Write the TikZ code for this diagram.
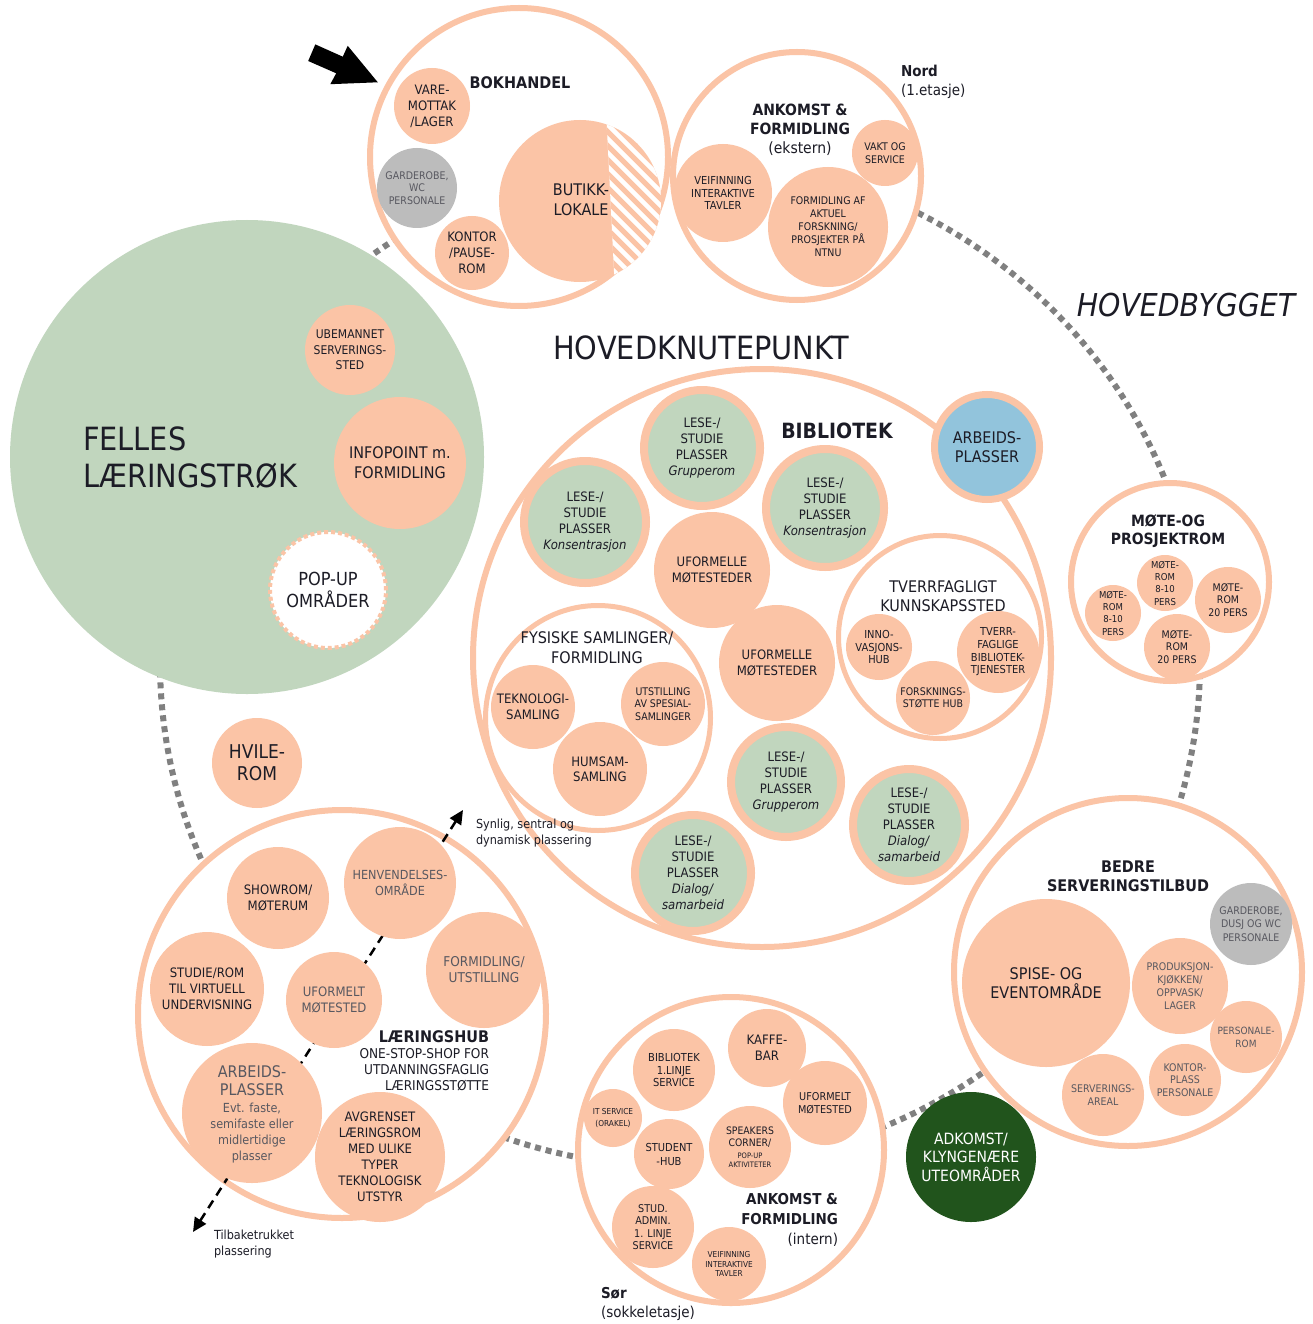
\documentclass[tikz,border=0pt]{standalone}
\usepackage{fontspec}
\setmainfont{DejaVu Sans}[FakeStretch=0.9]
\usetikzlibrary{arrows.meta}
\definecolor{peach}{RGB}{251,196,166}
\definecolor{lgreen}{RGB}{193,214,190}
\definecolor{lblue}{RGB}{146,196,220}
\definecolor{lgray}{RGB}{188,188,188}
\definecolor{dgreen}{RGB}{33,84,28}
\definecolor{txt}{RGB}{28,28,38}
\definecolor{gtxt}{RGB}{88,88,96}
\definecolor{dotc}{RGB}{128,128,128}
\newcommand{\myfs}[2]{\fontsize{#1}{#2}\selectfont}
\begin{document}
\begin{tikzpicture}[x=1pt,y=-1pt,
  every node/.style={inner sep=0pt, outer sep=0pt, align=center, text=txt},
  bub/.style={circle, fill=peach, minimum size={2*#1}},
  gbub/.style={circle, fill=lgray, minimum size={2*#1}, text=gtxt},
  ring/.style={circle, draw=peach, line width=6pt, fill=white, minimum size={2*(#1-3)}},
  iring/.style={circle, draw=peach, line width=5pt, fill=white, minimum size={2*(#1-2.5)}},
  lese/.style={circle, fill=lgreen, draw=peach, line width=8pt, minimum size={2*(#1-4)}, font=\myfs{13}{16}},
  dotring/.style={dotc, line width=6pt, dash pattern=on 6pt off 5pt},
  hubarrow/.style={line width=2.5pt, dash pattern=on 9pt off 6pt, {Triangle[length=14pt,width=13pt]}-{Triangle[length=14pt,width=13pt]}}
]
\useasboundingbox (0,0) rectangle (1312,1324);
\fill[white] (0,0) rectangle (1312,1324);

% dotted connecting ring
\draw[dotring] (680,662) ellipse [x radius=520, y radius=505];

% ===== FELLES LAERINGSTROK =====
\node[circle, fill=lgreen, minimum size=474] (felles) at (247,457) {};
\node[anchor=west, align=left, font=\myfs{32}{37}] (fellesT) at (83,458) {FELLES\\LÆRINGSTRØK};
\node[bub=45, font=\myfs{12}{15.5}] (ubem) at (350,350) {UBEMANNET\\SERVERINGS-\\STED};
\node[bub=66, font=\myfs{16}{20}] (info) at (400,463) {INFOPOINT m.\\FORMIDLING};
\node[circle, fill=white, draw=peach, line width=4pt, dash pattern=on 4pt off 3pt, minimum size=116, font=\myfs{18}{22}] (popup) at (328,590) {POP-UP\\OMRÅDER};
\node[bub=45, font=\myfs{19}{22}] (hvile) at (257,763) {HVILE-\\ROM};

% ===== BOKHANDEL =====
\node[ring=152] (bok) at (519,157) {};
\node[font=\bfseries\myfs{16}{19}] (bokT) at (520,83) {BOKHANDEL};
\node[bub=38, font=\myfs{13}{16}] (vare) at (432,106) {VARE-\\MOTTAK\\/LAGER};
\node[gbub=40, font=\myfs{10.5}{12.5}] (garde) at (417,188) {GARDEROBE,\\WC\\PERSONALE};
\node[bub=37, font=\myfs{13}{16}] (kontor) at (472,253) {KONTOR\\/PAUSE-\\ROM};
\node[bub=81] (butikk) at (580,201) {};
\begin{scope}
  \clip (580,201) circle [radius=81];
  \clip (606,110) -- (615,292) -- (680,292) -- (680,110) -- cycle;
  \fill[white] (590,110) rectangle (680,292);
  \foreach \k in {-210,-196,...,130} \draw[peach, line width=5pt] (600+\k,110) -- (782+\k,292);
\end{scope}
\node[font=\myfs{16}{19.5}] (butikkT) at (581,200) {BUTIKK-\\LOKALE};

% black entrance arrow
\fill[black] (315.3,44.4) -- (342.8,56.7) -- (347.7,45.8) -- (377.8,82.3) -- (330.3,84.2) -- (336.2,73.3) -- (308.2,61) -- cycle;

% ===== ANKOMST (ekstern) =====
\node[ring=127] (ankE) at (797,176) {};
\node[font=\myfs{15.5}{19}] (ankET) at (800,130) {\textbf{ANKOMST \&}\\\textbf{FORMIDLING}\\(ekstern)};
\node[bub=49, font=\myfs{11}{12.5}] (veiE) at (723,193) {VEIFINNING\\INTERAKTIVE\\TAVLER};
\node[bub=60, font=\myfs{10.5}{13}] (formE) at (828,227) {FORMIDLING AF\\AKTUEL\\FORSKNING/\\PROSJEKTER PÅ\\NTNU};
\node[bub=33, font=\myfs{10.5}{12.5}] (vakt) at (885,153) {VAKT OG\\SERVICE};
\node[anchor=west, align=left, font=\myfs{15}{19}] (nord) at (901,82) {\textbf{Nord}\\(1.etasje)};

\node[font=\itshape\myfs{31.5}{36}] (hovedb) at (1186,305) {HOVEDBYGGET};
\node[font=\myfs{32}{36}] (hovedk) at (701,348) {HOVEDKNUTEPUNKT};

% ===== BIBLIOTEK =====
\node[ring=292] (lib) at (762,658) {};
\node[font=\bfseries\myfs{21}{25}] (libT) at (837,431) {BIBLIOTEK};
\node[circle, fill=lblue, draw=peach, line width=7pt, minimum size=105, font=\myfs{16}{18.5}] (arb) at (987,447) {ARBEIDS-\\PLASSER};
\node[lese=62] (l1) at (702,448) {LESE-/\\STUDIE\\PLASSER\\\textit{Grupperom}};
\node[lese=65] (l2) at (585,522) {LESE-/\\STUDIE\\PLASSER\\\textit{Konsentrasjon}};
\node[lese=63] (l3) at (825,508) {LESE-/\\STUDIE\\PLASSER\\\textit{Konsentrasjon}};
\node[lese=59] (l4) at (786,782) {LESE-/\\STUDIE\\PLASSER\\\textit{Grupperom}};
\node[lese=60] (l5) at (909,825) {LESE-/\\STUDIE\\PLASSER\\\textit{Dialog/}\\\textit{samarbeid}};
\node[lese=62] (l6) at (693,873) {LESE-/\\STUDIE\\PLASSER\\\textit{Dialog/}\\\textit{samarbeid}};
\node[bub=58, font=\myfs{13}{16}] (uf1) at (712,570) {UFORMELLE\\MØTESTEDER};
\node[bub=58, font=\myfs{13}{16}] (uf2) at (777,663) {UFORMELLE\\MØTESTEDER};

\node[iring=104] (tvf) at (940,637) {};
\node[font=\myfs{16}{19}] (tvfT) at (943,596) {TVERRFAGLIGT\\KUNNSKAPSSTED};
\node[bub=33, font=\myfs{11}{12.7}] (inno) at (879,647) {INNO-\\VASJONS-\\HUB};
\node[bub=41, font=\myfs{11}{12.7}] (tverrB) at (998,652) {TVERR-\\FAGLIGE\\BIBLIOTEK-\\TJENESTER};
\node[bub=37, font=\myfs{10.5}{12.5}] (forsk) at (933,698) {FORSKNINGS-\\STØTTE HUB};

\node[iring=115] (fys) at (598,718) {};
\node[font=\myfs{16}{20}] (fysT) at (597,648) {FYSISKE SAMLINGER/\\FORMIDLING};
\node[bub=42, font=\myfs{13}{15.7}] (tek) at (533,707) {TEKNOLOGI-\\SAMLING};
\node[bub=42, font=\myfs{10.5}{12.8}] (utst) at (663,704) {UTSTILLING\\AV SPESIAL-\\SAMLINGER};
\node[bub=47, font=\myfs{13}{15}] (hum) at (600,769) {HUMSAM-\\SAMLING};

\node[anchor=west, align=left, font=\myfs{12.5}{16}] (synlig) at (476,833) {Synlig, sentral og\\dynamisk plassering};

% ===== MOTE OG PROSJEKTROM =====
\node[ring=102] (mote) at (1170,582) {};
\node[font=\bfseries\myfs{15.5}{18}] (moteT) at (1168,531) {MØTE-OG\\PROSJEKTROM};
\node[bub=28, font=\myfs{9.5}{12.3}] (m1) at (1165,583) {MØTE-\\ROM\\8-10\\PERS};
\node[bub=28, font=\myfs{9.5}{12.3}] (m2) at (1113,613) {MØTE-\\ROM\\8-10\\PERS};
\node[bub=33, font=\myfs{10.5}{12.5}] (m3) at (1228,600) {MØTE-\\ROM\\20 PERS};
\node[bub=33, font=\myfs{10.5}{12.5}] (m4) at (1177,647) {MØTE-\\ROM\\20 PERS};

% ===== BEDRE SERVERINGSTILBUD =====
\node[ring=177] (bedre) at (1128,972) {};
\node[font=\bfseries\myfs{16}{19}] (bedreT) at (1128,876) {BEDRE\\SERVERINGSTILBUD};
\node[bub=84, font=\myfs{16}{18.5}] (spise) at (1046,983) {SPISE- OG\\EVENTOMRÅDE};
\node[gbub=41, font=\myfs{10.5}{13.3}] (gardeB) at (1251,924) {GARDEROBE,\\DUSJ OG WC\\PERSONALE};
\node[bub=48, font=\myfs{10.5}{12.8}, text=gtxt] (prod) at (1180,986) {PRODUKSJON-\\KJØKKEN/\\OPPVASK/\\LAGER};
\node[bub=36, font=\myfs{10}{13.3}, text=gtxt] (persrom) at (1246,1037) {PERSONALE-\\ROM};
\node[bub=36, font=\myfs{10.5}{12.5}, text=gtxt] (kontorB) at (1185,1080) {KONTOR-\\PLASS\\PERSONALE};
\node[bub=41, font=\myfs{10.5}{12.5}, text=gtxt] (servA) at (1103,1095) {SERVERINGS-\\AREAL};
\node[circle, fill=dgreen, minimum size=130, text=white, font=\myfs{15.5}{18.5}] (adk) at (971,1157) {ADKOMST/\\KLYNGENÆRE\\UTEOMRÅDER};

% ===== LAERINGSHUB =====
\node[ring=207] (lhub) at (342,1014) {};
\coordinate (arrS) at (193,1232);
\coordinate (arrN) at (463,810);
\draw[hubarrow] (arrS) -- (arrN);
\node[bub=51, font=\myfs{13}{16}] (show) at (278,898) {SHOWROM/\\MØTERUM};
\node[bub=56, font=\myfs{12.5}{16}, text=gtxt] (henv) at (400,883) {HENVENDELSES-\\OMRÅDE};
\node[bub=57, font=\myfs{13}{16}] (virt) at (207,989) {STUDIE/ROM\\TIL VIRTUELL\\UNDERVISNING};
\node[bub=48, font=\myfs{13}{16}, text=gtxt] (ufmt) at (334,1000) {UFORMELT\\MØTESTED};
\node[bub=58, font=\myfs{13.5}{16}, text=gtxt] (formU) at (484,970) {FORMIDLING/\\UTSTILLING};
\node[bub=70] (arbL) at (252,1113) {};
\node[font=\myfs{16}{18.3}, text=gtxt] (arbLT) at (252,1081) {ARBEIDS-\\PLASSER};
\node[font=\myfs{12.5}{16}, text=gtxt] (arbLS) at (252,1133) {Evt. faste,\\semifaste eller\\midlertidige\\plasser};
\node[bub=65, font=\myfs{13}{16}] (avgr) at (380,1157) {AVGRENSET\\LÆRINGSROM\\MED ULIKE\\TYPER\\TEKNOLOGISK\\UTSTYR};
\node[anchor=east, font=\bfseries\myfs{16}{19}] (lhT) at (489,1037) {LÆRINGSHUB};
\node[anchor=east, align=right, font=\myfs{13.5}{16}] (lhS) at (489,1070) {ONE-STOP-SHOP FOR\\UTDANNINGSFAGLIG\\LÆRINGSSTØTTE};
\node[anchor=west, align=left, font=\myfs{12.5}{16}] (tilb) at (214,1244) {Tilbaketrukket\\plassering};

% ===== ANKOMST (intern) =====
\node[ring=156] (ankI) at (731,1150) {};
\node[bub=41, font=\myfs{11}{12.3}] (bib1) at (674,1070) {BIBLIOTEK\\1.LINJE\\SERVICE};
\node[bub=39, font=\myfs{13}{16}] (kaffe) at (767,1048) {KAFFE-\\BAR};
\node[bub=42, font=\myfs{10.8}{12.7}] (ufI) at (825,1103) {UFORMELT\\MØTESTED};
\node[bub=29, font=\myfs{8.2}{11.5}] (itS) at (613,1118) {IT SERVICE\\(ORAKEL)};
\node[bub=35, font=\myfs{11}{14}] (stud) at (669,1154) {STUDENT\\-HUB};
\node[bub=41] (speak) at (750,1147) {};
\node[font=\myfs{10.3}{12.5}] (speakT) at (750,1137) {SPEAKERS\\CORNER/};
\node[font=\myfs{7.5}{9}] (speakS) at (750,1160) {POP-UP\\AKTIVITETER};
\node[bub=41, font=\myfs{10.7}{12.5}] (studA) at (653,1227) {STUD.\\ADMIN.\\1. LINJE\\SERVICE};
\node[bub=37, font=\myfs{8.2}{9.2}] (veiI) at (729,1264) {VEIFINNING\\INTERAKTIVE\\TAVLER};
\node[anchor=east, align=right, font=\myfs{15}{20}] (ankIT) at (838,1220) {\textbf{ANKOMST \&}\\\textbf{FORMIDLING}\\(intern)};
\node[anchor=west, align=left, font=\myfs{15}{18.5}] (sor) at (601,1304) {\textbf{Sør}\\(sokkeletasje)};
\end{tikzpicture}
\end{document}
